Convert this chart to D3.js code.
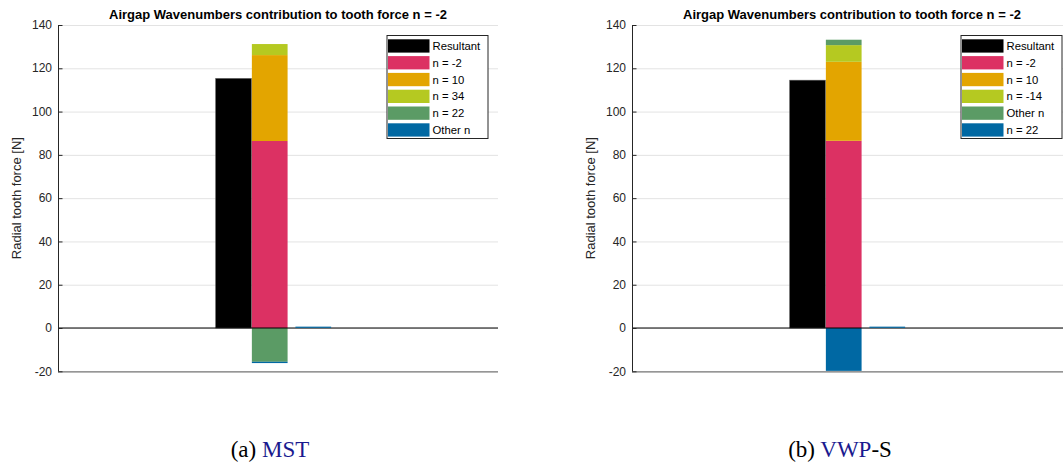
<!DOCTYPE html>
<html><head><meta charset="utf-8">
<script src="https://cdn.jsdelivr.net/npm/d3@7"></script>
<style>body{margin:0;background:#fff}svg{display:block}</style>
</head><body><svg id="c" width="1063" height="464"></svg>
<script>
// ---- data ----
const yTicks = [-20, 0, 20, 40, 60, 80, 100, 120, 140];
const seriesColors = ["#000000", "#DC3163", "#E3A500", "#B5C921", "#5B9B65", "#0068A3"];
const mstLabels = ["Resultant", "n = -2", "n = 10", "n = 34", "n = 22", "Other n"];
const mstValues = [115.3, 86.4, 39.7, 5.1, -15.6, -0.6];
const mstResidual = 0.4;
const vwpLabels = ["Resultant", "n = -2", "n = 10", "n = -14", "Other n", "n = 22"];
const vwpValues = [114.5, 86.5, 36.5, 7.7, 2.5, -19.8];
const vwpResidual = 0.4;
const barPositions = [4.03, 4.86, 5.86]; // resultant, contributions, residual (x units)
const titleText = "Airgap Wavenumbers contribution to tooth force n = -2";
const yLabel = "Radial tooth force [N]";

const svg = d3.select("#c");
const sans = "Liberation Sans, Arial, Helvetica, sans-serif";

function drawChart(left, labels, values, residual, captionParts, captionX) {
  const W = 440, top = 25, bottom = 371.3;
  const g = svg.append("g");
  const x = d3.scaleLinear().domain([0, 10.1]).range([left, left + W]);
  const y = d3.scaleLinear().domain([-20, 140]).range([bottom, top]);
  const bw = x(0.82) - x(0);

  // grid
  g.selectAll(".grid").data(yTicks).enter().append("line")
    .attr("x1", left).attr("x2", left + W)
    .attr("y1", d => y(d) + 0.5).attr("y2", d => y(d) + 0.5)
    .attr("stroke", "#e3e3e3").attr("stroke-width", 1);

  // resultant bar
  g.append("rect")
    .attr("x", x(barPositions[0]) - bw / 2).attr("width", bw)
    .attr("y", y(values[0])).attr("height", y(0) - y(values[0]))
    .attr("fill", seriesColors[0]).attr("stroke", "#555").attr("stroke-width", 0.6);

  // stacked contributions
  let pos = 0, neg = 0;
  const stack = values.slice(1).map((v, i) => {
    let y0, y1;
    if (v >= 0) { y0 = pos; y1 = pos + v; pos = y1; } else { y0 = neg; y1 = neg + v; neg = y1; }
    return { y0, y1, c: seriesColors[i + 1] };
  });
  g.selectAll(".stk").data(stack).enter().append("rect")
    .attr("x", x(barPositions[1]) - bw / 2).attr("width", bw)
    .attr("y", d => y(Math.max(d.y0, d.y1)))
    .attr("height", d => Math.abs(y(d.y0) - y(d.y1)))
    .attr("fill", d => d.c);

  // zero baseline
  g.append("line").attr("x1", left).attr("x2", left + W)
    .attr("y1", y(0)).attr("y2", y(0)).attr("stroke", "#000").attr("stroke-width", 1);

  // residual small bar (drawn over baseline)
  g.append("rect")
    .attr("x", x(barPositions[2]) - bw / 2).attr("width", bw)
    .attr("y", y(residual) - 0.5).attr("height", Math.max(1.2, y(0) - y(residual)))
    .attr("fill", seriesColors[5]);

  // axes
  g.append("line").attr("x1", left + 0.5).attr("x2", left + 0.5)
    .attr("y1", top).attr("y2", bottom).attr("stroke", "#262626").attr("stroke-width", 1);
  g.append("line").attr("x1", left).attr("x2", left + W)
    .attr("y1", bottom + 0.5).attr("y2", bottom + 0.5).attr("stroke", "#7a7a7a").attr("stroke-width", 1.3);
  g.selectAll(".tk").data(yTicks).enter().append("line")
    .attr("x1", left).attr("x2", left + 4.5)
    .attr("y1", d => y(d) + 0.5).attr("y2", d => y(d) + 0.5)
    .attr("stroke", "#262626");
  g.selectAll(".tl").data(yTicks).enter().append("text")
    .attr("x", left - 6).attr("y", d => y(d) + 4.2)
    .attr("text-anchor", "end").attr("font-family", sans).attr("font-size", 12)
    .attr("fill", "#262626").text(d => d);

  // title
  g.append("text").attr("x", left + W / 2).attr("y", 19)
    .attr("text-anchor", "middle").attr("font-family", sans).attr("font-size", 13)
    .attr("font-weight", "bold").attr("fill", "#000").text(titleText);

  // y label
  g.append("text").attr("transform", `translate(${left - 37},${(top + bottom) / 2}) rotate(-90)`)
    .attr("text-anchor", "middle").attr("font-family", sans).attr("font-size", 13)
    .attr("fill", "#262626").text(yLabel);

  // legend
  const lx = left + 328.5, ly = 35, rowH = 16.8;
  g.append("rect").attr("x", lx + 0.5).attr("y", ly + 0.5).attr("width", 101).attr("height", 103)
    .attr("fill", "#fff").attr("stroke", "#262626").attr("stroke-width", 1);
  const items = g.selectAll(".lg").data(labels).enter().append("g")
    .attr("transform", (d, i) => `translate(${lx + 1.5},${ly + 4.3 + i * rowH})`);
  items.append("rect").attr("width", 41.5).attr("height", 13.3)
    .attr("fill", (d, i) => seriesColors[i]);
  items.append("text").attr("x", 44.5).attr("y", 10.8)
    .attr("font-family", sans).attr("font-size", 11.3).attr("fill", "#000").text(d => d);

  // caption
  const cap = svg.append("text").attr("x", captionX).attr("y", 457)
    .attr("text-anchor", "middle").attr("font-family", "Liberation Serif, Times New Roman, serif")
    .attr("font-size", 23);
  captionParts.forEach(p => cap.append("tspan").attr("fill", p[1]).text(p[0]));
}

drawChart(58, mstLabels, mstValues, mstResidual, [["(a) ", "#000"], ["MST", "#1a1a8f"]], 270);
drawChart(632, vwpLabels, vwpValues, vwpResidual, [["(b) ", "#000"], ["VWP", "#1a1a8f"], ["-S", "#000"]], 840);
</script></body></html>
